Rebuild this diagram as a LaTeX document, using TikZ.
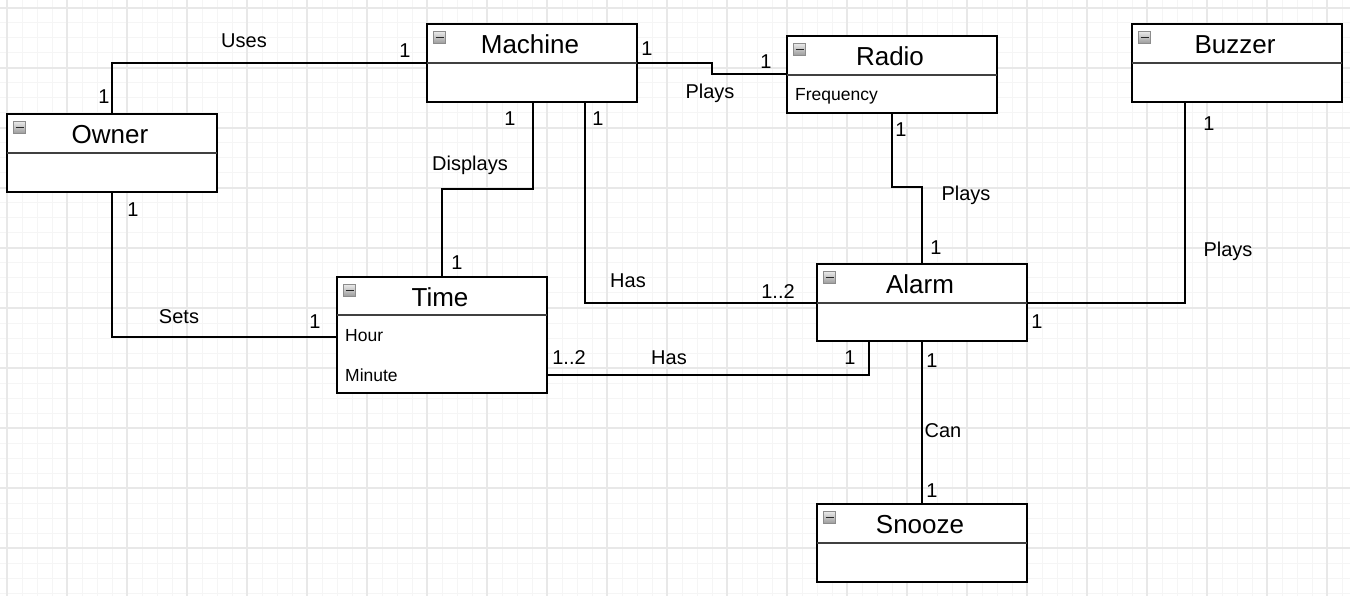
\documentclass[tikz,border=0pt]{standalone}
\usepackage{fontspec}
\setmainfont{Liberation Sans}
\begin{document}
\begin{tikzpicture}[x=1pt,y=-1pt,
  classbox/.style={draw=black,line width=2pt,fill=white,minimum width=210pt,inner sep=0pt,outer sep=0pt},
  sepline/.style={draw=black!75,line width=1.8pt},
  classtitle/.style={font=\fontsize{26}{30}\selectfont,inner sep=0pt},
  attr/.style={font=\fontsize{17.5}{20}\selectfont,anchor=west,inner sep=0pt},
  lbl/.style={font=\fontsize{20}{24}\selectfont,inner sep=0pt},
  assoc/.style={draw=black,line width=2pt},
  minorgrid/.style={draw=black!4,line width=1pt},
  majorgrid/.style={draw=black!9,line width=1.3pt},
  collapse/.style={draw=black!45,line width=0.6pt,top color=black!8,bottom color=black!40,minimum size=12.5pt,inner sep=0pt}
]
\useasboundingbox (0,0) rectangle (1350,596);
\fill[white] (0,0) rectangle (1350,596);

% background grid
\foreach \k in {0,...,89} {\draw[minorgrid] (7+15*\k,0) -- (7+15*\k,596);}
\foreach \k in {0,...,39} {\draw[minorgrid] (0,8+15*\k) -- (1350,8+15*\k);}
\foreach \k in {0,...,22} {\draw[majorgrid] (7+60*\k,0) -- (7+60*\k,596);}
\foreach \k in {0,...,9} {\draw[majorgrid] (0,8+60*\k) -- (1350,8+60*\k);}

% a class: #1 name, #2 centre, #3 height, #4 header height, #5 title
\newcommand\umlclass[5]{%
  \node[classbox,minimum height=#3pt] (#1) at (#2) {};
  \draw[sepline] ([yshift=-#4pt]#1.north west) -- ([yshift=-#4pt]#1.north east);
  \node[classtitle] (#1-title) at ([xshift=-2pt,yshift=-#4pt/2-1pt]#1.north) {#5};
  \node[collapse] (#1-icon) at ([xshift=12.5pt,yshift=-13.5pt]#1.north west) {};
  \draw[black!85,line width=1.6pt] ([xshift=-4pt]#1-icon.center) -- ([xshift=4pt]#1-icon.center);
}

\umlclass{machine}{532,63}{78}{39}{Machine}
\umlclass{owner}{112,153}{78}{39}{Owner}
\umlclass{time}{442,335}{116}{38}{Time}
\umlclass{radio}{892,74.5}{77}{39}{Radio}
\umlclass{buzzer}{1237,63}{78}{39}{Buzzer}
\umlclass{alarm}{922,302.5}{77}{39}{Alarm}
\umlclass{snooze}{922,543}{78}{39}{Snooze}

% attributes
\node[attr] (hour) at (345,336) {Hour};
\node[attr] (minute) at (345,375) {Minute};
\node[attr] (freq) at (795,96) {Frequency};

% associations
\draw[assoc] (owner.north) |- (machine.west);
\draw[assoc] (machine.east) -- ++(75,0) |- (radio.west);
\draw[assoc] ([xshift=1pt]machine.south) -- ++(0,87) -| (time.north);
\draw[assoc] ([xshift=53pt]machine.south) |- (alarm.west);
\draw[assoc] (owner.south) |- ([yshift=-2pt]time.west);
\draw[assoc] ([yshift=-40pt]time.east) -| ([xshift=-53pt]alarm.south);
\draw[assoc] (radio.south) -- ++(0,74) -| (alarm.north);
\draw[assoc] ([xshift=-52pt]buzzer.south) |- (alarm.east);
\draw[assoc] (alarm.south) -- (snooze.north);

% association names and multiplicities
\node[lbl] (l-uses) at (244,41) {Uses};
\node[lbl] (m-uses-o) at (104,97) {1};
\node[lbl] (m-uses-m) at (405,51) {1};

\node[lbl] (m-mr-m) at (647,49) {1};
\node[lbl] (m-mr-r) at (766,62) {1};
\node[lbl] (l-mr) at (710,93) {Plays};

\node[lbl] (m-disp-m) at (510,119) {1};
\node[lbl] (l-disp) at (470,165) {Displays};
\node[lbl] (m-disp-t) at (457,263) {1};

\node[lbl] (m-ma-m) at (598,119) {1};
\node[lbl] (l-ma) at (628,281) {Has};
\node[lbl] (m-ma-a) at (778,292) {1..2};

\node[lbl] (m-sets-o) at (133,210) {1};
\node[lbl] (l-sets) at (179,317) {Sets};
\node[lbl] (m-sets-t) at (315,322) {1};

\node[lbl] (m-ta-t) at (569,358) {1..2};
\node[lbl] (l-ta) at (669,358) {Has};
\node[lbl] (m-ta-a) at (850,358) {1};

\node[lbl] (m-ra-r) at (901,130) {1};
\node[lbl] (l-ra) at (966,195) {Plays};
\node[lbl] (m-ra-a) at (936,248) {1};

\node[lbl] (m-ba-b) at (1209,124) {1};
\node[lbl] (l-ba) at (1228,251) {Plays};
\node[lbl] (m-ba-a) at (1037,322) {1};

\node[lbl] (m-can-a) at (932,361) {1};
\node[lbl] (l-can) at (943,431) {Can};
\node[lbl] (m-can-s) at (932,491) {1};
\end{tikzpicture}
\end{document}
